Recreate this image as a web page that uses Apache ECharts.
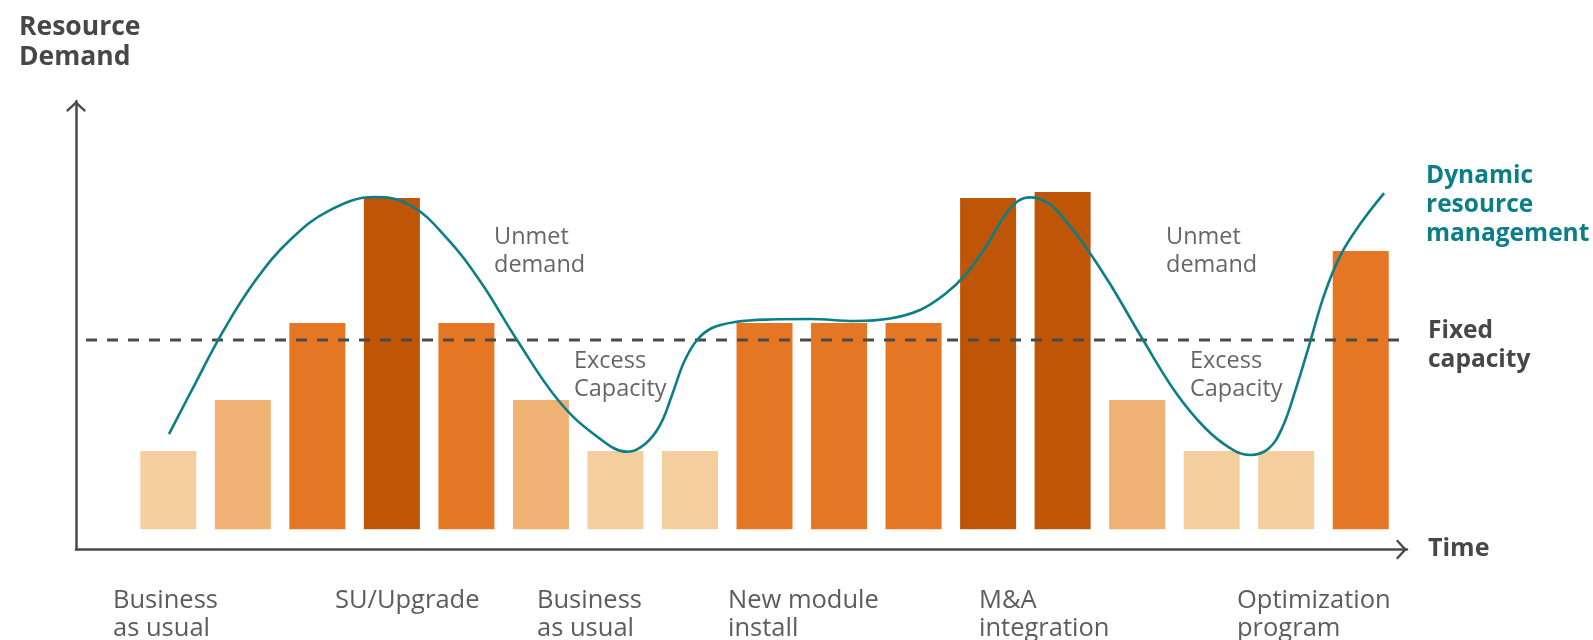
<!DOCTYPE html>
<html>
<head>
<meta charset="utf-8">
<script src="https://cdn.jsdelivr.net/npm/echarts@6/dist/echarts.min.js"></script>
<style>
html,body{margin:0;padding:0;background:#ffffff;}
#chart{width:1593px;height:640px;}
</style>
</head>
<body>
<div id="chart"></div>
<script>
// ---------- DATA ----------
const timeSlots = [1, 2, 3, 4, 5, 6, 7, 8, 9, 10, 11, 12, 13, 14, 15, 16, 17];
const resourceDemand = [4.14, 6.83, 10.9, 17.5, 10.9, 6.83, 4.14, 4.14, 10.9, 10.9, 10.9, 17.5, 17.82, 6.83, 4.14, 4.14, 14.7];
const loadLevel = ['low', 'medium', 'high', 'peak', 'high', 'medium', 'low', 'low', 'high', 'high', 'high', 'peak', 'peak', 'medium', 'low', 'low', 'high'];
const fixedCapacity = 10;
const capacityStart = -0.104;
const capacityEnd = 17.62;
const dynamicX = [1.009, 1.358, 1.721, 2.163, 2.633, 3.170, 3.774, 4.243, 4.713, 5.183, 5.679, 6.230, 6.726, 7.169, 7.397, 7.598, 7.759, 7.920, 8.095, 8.296, 8.605, 9.074, 9.611, 10.215, 10.685, 11.087, 11.423, 11.691, 11.960, 12.228, 12.402, 12.563, 12.805, 13.033, 13.301, 13.637, 14.080, 14.523, 14.912, 15.247, 15.516, 15.757, 15.945, 16.133, 16.321, 16.509, 16.723, 16.992, 17.314];
const dynamicY = [5.034, 7.676, 10.370, 13.117, 15.283, 16.867, 17.554, 17.132, 15.494, 13.117, 10.000, 6.830, 4.982, 4.099, 4.506, 5.510, 7.095, 8.838, 10.000, 10.634, 10.951, 11.083, 11.109, 11.004, 11.136, 11.585, 12.430, 13.434, 14.860, 16.603, 17.343, 17.538, 17.237, 16.339, 14.966, 12.958, 10.000, 7.200, 5.351, 4.295, 3.925, 4.242, 5.351, 7.464, 9.894, 12.377, 14.437, 16.128, 17.765];
const phaseLabels = ['Business\nas usual', 'SU/Upgrade', 'Business\nas usual', 'New module\ninstall', 'M&A\nintegration', 'Optimization\nprogram'];
const gapLabels = ['Unmet\ndemand', 'Excess\nCapacity', 'Unmet\ndemand', 'Excess\nCapacity'];
const yAxisTitle = 'Resource\nDemand';
const xAxisTitle = 'Time';
const capacityTitle = 'Fixed\ncapacity';
const dynamicTitle = 'Dynamic\nresource\nmanagement';

// ---------- STYLE / LAYOUT ----------
const palette = { low: '#F5CE9D', medium: '#F0B274', high: '#E57623', peak: '#BF5507' };
const teal = '#0B7E87';
const axisColor = '#4A4A4A';
const FONT = '"Open Sans", "Noto Sans", sans-serif';
const chevron = 'path://M10 0 L20 9.3 L18.4 11 L10 3.3 L1.6 11 L0 9.3 Z';

const phaseX = [113, 335, 537, 728, 979, 1237];
const gapPos = [[494, 223], [574, 347], [1166, 223], [1190, 347]];

const chart = echarts.init(document.getElementById('chart'), null, { renderer: 'canvas' });

const barData = resourceDemand.map((v, i) => ({
  value: [timeSlots[i], v],
  itemStyle: { color: palette[loadLevel[i]] }
}));
const curveData = dynamicX.map((x, i) => [x, dynamicY[i]]);

const graphics = [];
phaseLabels.forEach((t, i) => {
  graphics.push({ type: 'text', x: phaseX[i], y: 587, silent: true,
    style: { text: t, fill: '#5C5C5C', font: '400 25.5px ' + FONT, lineHeight: 27.5, verticalAlign: 'top', align: 'left' } });
});
gapLabels.forEach((t, i) => {
  graphics.push({ type: 'text', x: gapPos[i][0], y: gapPos[i][1], silent: true,
    style: { text: t, fill: '#666666', font: '400 23.5px ' + FONT, lineHeight: 28.5, verticalAlign: 'top', align: 'left' } });
});
graphics.push({ type: 'text', x: 19, y: 13, silent: true,
  style: { text: yAxisTitle, fill: '#474747', font: '700 26.5px ' + FONT, lineHeight: 29.5, verticalAlign: 'top' } });
graphics.push({ type: 'text', x: 1428, y: 535, silent: true,
  style: { text: xAxisTitle, fill: '#474747', font: '700 25px ' + FONT, lineHeight: 27, verticalAlign: 'top' } });
graphics.push({ type: 'text', x: 1428, y: 316, silent: true,
  style: { text: capacityTitle, fill: '#474747', font: '700 24.5px ' + FONT, lineHeight: 29.5, verticalAlign: 'top' } });
graphics.push({ type: 'text', x: 1426, y: 162, silent: true,
  style: { text: dynamicTitle, fill: teal, font: '700 24.5px ' + FONT, lineHeight: 28.7, verticalAlign: 'top' } });

const axisLineCommon = {
  show: true,
  onZero: false,
  symbol: ['none', chevron],
  symbolSize: [20, 11],
  symbolOffset: [0, -5.5],
  lineStyle: { color: axisColor, width: 2.5 }
};

chart.setOption({
  animation: false,
  backgroundColor: '#ffffff',
  grid: { left: 76, right: 186, top: 101, bottom: 90.5, containLabel: false },
  xAxis: {
    type: 'value', min: -0.2386, max: 17.621,
    axisLine: axisLineCommon,
    axisTick: { show: false }, axisLabel: { show: false }, splitLine: { show: false }
  },
  yAxis: {
    type: 'value', min: -1.067, max: 22.63,
    axisLine: axisLineCommon,
    axisTick: { show: false }, axisLabel: { show: false }, splitLine: { show: false }
  },
  series: [
    {
      name: 'Resource demand', type: 'bar', data: barData, barWidth: 56, z: 2,
      silent: true
    },
    {
      name: 'Fixed capacity', type: 'line', z: 3, silent: true,
      data: [[capacityStart, fixedCapacity], [capacityEnd, fixedCapacity]],
      symbol: 'none',
      lineStyle: { color: axisColor, width: 3, type: [11, 10] }
    },
    {
      name: 'Dynamic resource management', type: 'line', z: 4, silent: true,
      data: curveData, smooth: 0.4, symbol: 'none',
      lineStyle: { color: teal, width: 2.6 }
    }
  ],
  graphic: graphics
});
</script>
</body>
</html>
